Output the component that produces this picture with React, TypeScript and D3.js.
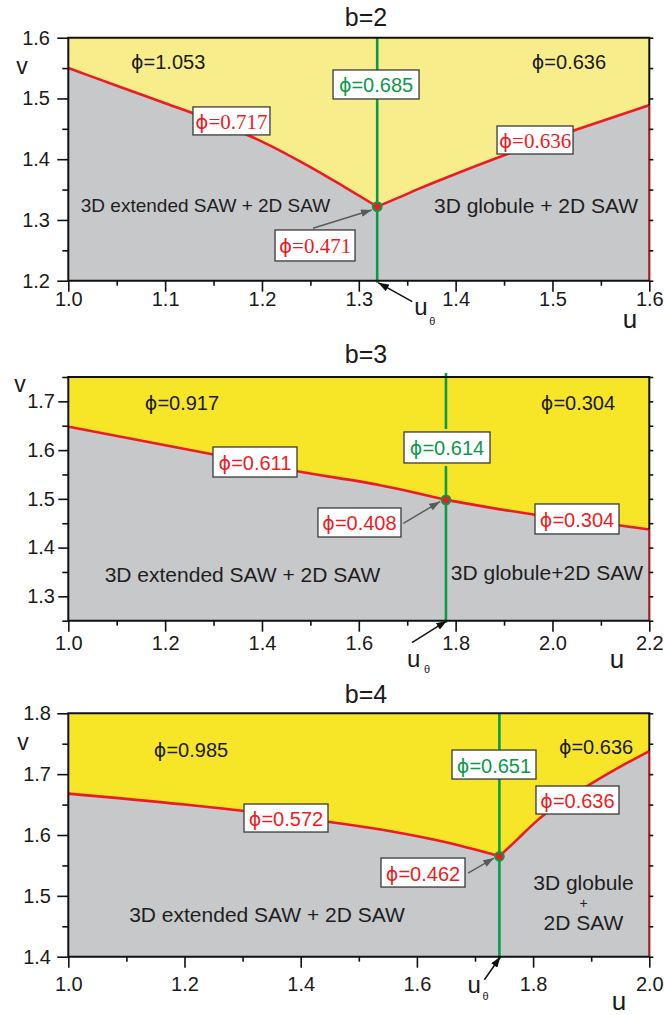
import React, { useEffect, useRef } from 'react';
import * as d3 from 'd3';

// ---- b=2 ----
const b2LeftU = [1.0, 1.05, 1.1, 1.15, 1.2, 1.25, 1.285, 1.319];
const b2LeftV = [1.55, 1.521, 1.492, 1.463, 1.429, 1.387, 1.3545, 1.322];
const b2RightU = [1.319, 1.343, 1.363, 1.394, 1.446, 1.529, 1.6];
const b2RightV = [1.322, 1.338, 1.352, 1.372, 1.404, 1.451, 1.489];
const b2Theta = 1.319;
const b2UTicks = [1.0, 1.1, 1.2, 1.3, 1.4, 1.5, 1.6];
const b2UMinor = [1.05, 1.15, 1.25, 1.35, 1.45, 1.55];
const b2VTicks = [1.2, 1.3, 1.4, 1.5, 1.6];
const b2VMinor = [1.25, 1.35, 1.45, 1.55];

// ---- b=3 ----
const b3LeftU = [1.0, 1.3, 1.47, 1.644, 1.78];
const b3LeftV = [1.648, 1.591, 1.557, 1.528, 1.498];
const b3RightU = [1.78, 1.865, 1.961, 2.136, 2.2];
const b3RightV = [1.498, 1.483, 1.468, 1.446, 1.437];
const b3Theta = 1.78;
const b3UTicks = [1.0, 1.2, 1.4, 1.6, 1.8, 2.0, 2.2];
const b3UMinor = [1.1, 1.3, 1.5, 1.7, 1.9, 2.1];
const b3VTicks = [1.3, 1.4, 1.5, 1.6, 1.7];
const b3VMinor = [1.25, 1.35, 1.45, 1.55, 1.65, 1.75];

// ---- b=4 ----
const b4LeftU = [1.0, 1.2, 1.4, 1.55, 1.65, 1.7, 1.742];
const b4LeftV = [1.668, 1.65, 1.628, 1.607, 1.588, 1.576, 1.565];
const b4RightU = [1.742, 1.772, 1.805, 1.903, 1.961, 2.0];
const b4RightV = [1.565, 1.592, 1.622, 1.686, 1.718, 1.738];
const b4Theta = 1.742;
const b4UTicks = [1.0, 1.2, 1.4, 1.6, 1.8, 2.0];
const b4UMinor = [1.1, 1.3, 1.5, 1.7, 1.9];
const b4VTicks = [1.4, 1.5, 1.6, 1.7, 1.8];
const b4VMinor = [1.45, 1.55, 1.65, 1.75];

const W = 664, H = 1015;
const X0 = 68.3, X1 = 649.3;
const FONT = "'Liberation Sans', Arial, Helvetica, sans-serif";
const SERIF = "'Liberation Serif', 'Times New Roman', serif";
const PHI_FONT = "'DejaVu Sans', sans-serif";
const GRAY = '#c7c8ca';
const RED = '#ec1c24';
const DARKRED = '#9e1f24';
const GREEN = '#0a9a48';

const panels = [
  {
    title: 'b=2', titleY: 26, top: 37.7, bottom: 280.7,
    uDomain: [1.0, 1.6], vDomain: [1.2, 1.6], yellow: '#f8ed8b',
    leftU: b2LeftU, leftV: b2LeftV, rightU: b2RightU, rightV: b2RightV, theta: b2Theta,
    uTicks: b2UTicks, uMinor: b2UMinor, vTicks: b2VTicks, vMinor: b2VMinor,
    xPad: 0.6, yPad: 7.3, yTick: 11,
    vLab: [22, 36], uLab: [630, 47],
    th: { tail: [35, 21], tip: 2, ux: 37, uy: 34, tx: 52, ty: 44 },
    greenTop: 0, gap: 0, serifBoxes: true,
    plain: [
      { val: '1.053', u: 1.1031, v: 1.56 },
      { val: '0.636', u: 1.517, v: 1.56 },
    ],
    boxes: [
      { val: '0.685', u: 1.3178, v: 1.523, w: 86, h: 29, green: true },
      { val: '0.717', u: 1.1685, v: 1.463, w: 77, h: 28 },
      { val: '0.636', u: 1.482, v: 1.4316, w: 76, h: 28 },
      { val: '0.471', u: 1.2548, v: 1.258, w: 80, h: 31 },
    ],
    regions: [
      { lines: ['3D extended SAW + 2D SAW'], u: 1.1417, v: 1.3246, size: 19 },
      { lines: ['3D globule + 2D SAW'], u: 1.483, v: 1.3246, size: 21 },
    ],
    arrow: { from: [1.2527, 1.2863], to: [1.3133, 1.3164] },
  },
  {
    title: 'b=3', titleY: 363, top: 377, bottom: 620.7,
    uDomain: [1.0, 2.2], vDomain: [1.25, 1.75], yellow: '#f6e627',
    leftU: b3LeftU, leftV: b3LeftV, rightU: b3RightU, rightV: b3RightV, theta: b3Theta,
    uTicks: b3UTicks, uMinor: b3UMinor, vTicks: b3VTicks, vMinor: b3VMinor,
    xPad: 3.8, yPad: 3.3, yTick: 10,
    vLab: [20, 15], uLab: [617, 47],
    th: { tail: [-34, 22], tip: 0, ux: -39, uy: 46, tx: -22, ty: 52 },
    greenTop: 4, gap: 3, serifBoxes: false,
    plain: [
      { val: '0.917', u: 1.2348, v: 1.6967 },
      { val: '0.304', u: 2.0527, v: 1.6967 },
    ],
    boxes: [
      { val: '0.614', u: 1.7822, v: 1.6054, w: 86, h: 31, green: true },
      { val: '0.611', u: 1.3856, v: 1.5756, w: 84, h: 30 },
      { val: '0.408', u: 1.6014, v: 1.4515, w: 83, h: 29 },
      { val: '0.304', u: 2.0507, v: 1.4587, w: 84, h: 30 },
    ],
    regions: [
      { lines: ['3D extended SAW + 2D SAW'], u: 1.3598, v: 1.3438, size: 21 },
      { lines: ['3D globule+2D SAW'], u: 1.9887, v: 1.3479, size: 21 },
    ],
    arrow: { from: [1.692, 1.4498], to: [1.7677, 1.4942] },
  },
  {
    title: 'b=4', titleY: 703, top: 713.3, bottom: 956.7,
    uDomain: [1.0, 2.0], vDomain: [1.4, 1.8], yellow: '#f6e627',
    leftU: b4LeftU, leftV: b4LeftV, rightU: b4RightU, rightV: b4RightV, theta: b4Theta,
    uTicks: b4UTicks, uMinor: b4UMinor, vTicks: b4VTicks, vMinor: b4VMinor,
    xPad: 8.8, yPad: 6.3, yTick: 11,
    vLab: [23, 37], uLab: [619, 53],
    th: { tail: [-15, 23], tip: 0, ux: -32, uy: 36, tx: -17, ty: 43 },
    greenTop: 0, gap: 0, serifBoxes: false,
    plain: [
      { val: '0.985', u: 1.2112, v: 1.7397 },
      { val: '0.636', u: 1.9083, v: 1.7446 },
    ],
    boxes: [
      { val: '0.651', u: 1.7327, v: 1.7158, w: 84, h: 29, green: true },
      { val: '0.572', u: 1.3747, v: 1.6279, w: 84, h: 28 },
      { val: '0.636', u: 1.8764, v: 1.6575, w: 83, h: 28 },
      { val: '0.462', u: 1.6105, v: 1.5383, w: 84, h: 29 },
    ],
    regions: [
      { lines: ['3D extended SAW + 2D SAW'], u: 1.342, v: 1.4686, size: 21 },
      { lines: ['3D globule', '+', '2D SAW'], u: 1.8867, v: 1.5227, size: 21, offs: [0, 21, 40], sizes: [21, 14, 21] },
    ],
    arrow: { from: [1.688, 1.5375], to: [1.7327, 1.5621] },
  },
];

function phiText(sel: any, x: number, y: number, val: string, size: number, font: string, color: string) {
  const t = sel.append('text')
    .attr('x', x).attr('y', y)
    .attr('text-anchor', 'middle')
    .attr('dominant-baseline', 'central')
    .attr('font-size', size)
    .attr('font-family', font)
    .attr('fill', color);
  t.append('tspan').attr('font-family', PHI_FONT).attr('font-size', size * 0.95).text('\u03D5');
  t.append('tspan').text('=' + val);
}

function drawPanel(svg: any, p: any) {
  const x = d3.scaleLinear().domain(p.uDomain).range([X0, X1]);
  const y = d3.scaleLinear().domain(p.vDomain).range([p.bottom, p.top]);
  const g = svg.append('g');

  const left = p.leftU.map((u: number, i: number) => [u, p.leftV[i]]);
  const right = p.rightU.map((u: number, i: number) => [u, p.rightV[i]]);

  g.append('rect')
    .attr('x', X0).attr('y', p.top)
    .attr('width', X1 - X0).attr('height', p.bottom - p.top)
    .attr('fill', p.yellow);

  const area = d3.area<any>()
    .x(d => x(d[0])).y0(p.bottom).y1(d => y(d[1]))
    .curve(d3.curveMonotoneX);
  [left, right].forEach(pts => {
    g.append('path').attr('d', area(pts)).attr('fill', GRAY).attr('stroke', GRAY).attr('stroke-width', 0.6);
  });

  // u_theta line
  const xt = x(p.theta);
  g.append('line')
    .attr('x1', xt).attr('x2', xt)
    .attr('y1', p.top - p.greenTop).attr('y2', p.bottom + 2)
    .attr('stroke', GREEN).attr('stroke-width', 2.6);

  const line = d3.line<any>().x(d => x(d[0])).y(d => y(d[1])).curve(d3.curveMonotoneX);
  [left, right].forEach(pts => {
    g.append('path').attr('d', line(pts)).attr('fill', 'none')
      .attr('stroke', RED).attr('stroke-width', 2.6).attr('stroke-linejoin', 'round');
  });

  const endV = p.rightV[p.rightV.length - 1];
  g.append('line')
    .attr('x1', X1).attr('x2', X1).attr('y1', y(endV)).attr('y2', p.bottom)
    .attr('stroke', DARKRED).attr('stroke-width', 2.2);

  // frame
  g.append('path')
    .attr('d', `M${X1},${y(endV)}V${p.top}H${X0}V${p.bottom}H${X1}`)
    .attr('fill', 'none').attr('stroke', '#111').attr('stroke-width', 2);

  const fmt = d3.format('.1f');
  const styleAxis = (s: any) => {
    s.select('.domain').remove();
    s.attr('font-family', FONT).attr('font-size', 20);
    s.selectAll('line').attr('stroke', '#111').attr('stroke-width', 1.6);
    s.selectAll('text').attr('fill', '#1a1a1a');
  };

  g.append('g').attr('transform', `translate(0,${p.bottom})`)
    .call(d3.axisBottom(x).tickValues(p.uTicks).tickSize(11).tickPadding(p.xPad).tickFormat((d: any) => fmt(d)))
    .call(styleAxis);
  g.append('g').attr('transform', `translate(0,${p.bottom})`)
    .call(d3.axisBottom(x).tickValues(p.uMinor).tickSize(5).tickFormat(() => ''))
    .call(styleAxis);
  g.append('g').attr('transform', `translate(${X0},0)`)
    .call(d3.axisLeft(y).tickValues(p.vTicks).tickSize(p.yTick).tickPadding(p.yPad).tickFormat((d: any) => fmt(d)))
    .call(styleAxis);
  g.append('g').attr('transform', `translate(${X0},0)`)
    .call(d3.axisLeft(y).tickValues(p.vMinor).tickSize(6).tickFormat(() => ''))
    .call(styleAxis);
  g.append('g').attr('transform', `translate(${X1},0)`)
    .call(d3.axisRight(y).tickValues([...p.vTicks, ...p.vMinor]).tickSize(4).tickFormat(() => ''))
    .call(styleAxis);

  // title and axis names
  g.append('text').attr('x', 366).attr('y', p.titleY).attr('text-anchor', 'middle')
    .attr('font-family', FONT).attr('font-size', 25).attr('fill', '#1a1a1a').text(p.title);
  g.append('text').attr('x', p.vLab[0]).attr('y', p.top + p.vLab[1]).attr('text-anchor', 'middle')
    .attr('font-family', FONT).attr('font-size', 23).attr('fill', '#1a1a1a').text('v');
  g.append('text').attr('x', p.uLab[0]).attr('y', p.bottom + p.uLab[1]).attr('text-anchor', 'middle')
    .attr('font-family', FONT).attr('font-size', 26).attr('fill', '#1a1a1a').text('u');

  // region texts
  p.regions.forEach((r: any) => {
    r.lines.forEach((s: string, i: number) => {
      g.append('text')
        .attr('x', x(r.u))
        .attr('y', y(r.v) + (r.offs ? r.offs[i] : 0))
        .attr('text-anchor', 'middle').attr('dominant-baseline', 'central')
        .attr('font-family', FONT).attr('font-size', r.sizes ? r.sizes[i] : r.size).attr('fill', '#1e1e1e')
        .text(s);
    });
  });

  // plain phi labels
  p.plain.forEach((l: any) => phiText(g, x(l.u), y(l.v), l.val, 20, FONT, '#1a1a1a'));

  // boxed labels
  p.boxes.forEach((b: any) => {
    const cx = x(b.u), cy = y(b.v);
    if (b.green && p.gap) {
      g.append('rect')
        .attr('x', cx - 3).attr('y', cy - b.h / 2 - p.gap)
        .attr('width', 6).attr('height', b.h + 2 * p.gap)
        .attr('fill', p.yellow);
    }
    g.append('rect')
      .attr('x', cx - b.w / 2).attr('y', cy - b.h / 2)
      .attr('width', b.w).attr('height', b.h)
      .attr('fill', '#fff').attr('stroke', '#3a3a3a').attr('stroke-width', 1.3);
    const serif = p.serifBoxes && !b.green;
    phiText(g, cx, cy + 1, b.val, serif ? 21 : 20, serif ? SERIF : FONT, b.green ? GREEN : RED);
  });

  // arrow to the critical point
  g.append('line')
    .attr('x1', x(p.arrow.from[0])).attr('y1', y(p.arrow.from[1]))
    .attr('x2', x(p.arrow.to[0])).attr('y2', y(p.arrow.to[1]))
    .attr('stroke', '#5a5a5a').attr('stroke-width', 1.4)
    .attr('marker-end', 'url(#ahGray)');

  // critical point
  g.append('circle')
    .attr('cx', x(p.theta)).attr('cy', y(p.leftV[p.leftV.length - 1])).attr('r', 4.4)
    .attr('fill', RED).attr('stroke', GREEN).attr('stroke-width', 2);

  // u_theta arrow and label
  g.append('line')
    .attr('x1', xt + p.th.tail[0]).attr('y1', p.bottom + p.th.tail[1])
    .attr('x2', xt + 1).attr('y2', p.bottom + p.th.tip)
    .attr('stroke', '#111').attr('stroke-width', 1.5)
    .attr('marker-end', 'url(#ahBlack)');
  g.append('text').attr('x', xt + p.th.ux).attr('y', p.bottom + p.th.uy)
    .attr('font-family', FONT).attr('font-size', 24).attr('fill', '#1a1a1a').text('u');
  g.append('text').attr('x', xt + p.th.tx).attr('y', p.bottom + p.th.ty)
    .attr('font-family', FONT).attr('font-size', 11).attr('fill', '#1a1a1a').text('\u03B8');
}

export default function App() {
  const ref = useRef<SVGSVGElement>(null);

  useEffect(() => {
    const svg = d3.select(ref.current);
    svg.selectAll('*').remove();
    svg.append('rect').attr('width', W).attr('height', H).attr('fill', '#fff');

    const defs = svg.append('defs');
    [['ahGray', '#5a5a5a'], ['ahBlack', '#111']].forEach(([id, c]) => {
      defs.append('marker')
        .attr('id', id).attr('viewBox', '0 0 10 7')
        .attr('refX', 10).attr('refY', 3.5)
        .attr('markerWidth', 11).attr('markerHeight', 7.5)
        .attr('markerUnits', 'userSpaceOnUse')
        .attr('orient', 'auto')
        .append('path').attr('d', 'M0,0L10,3.5L0,7Z').attr('fill', c);
    });

    panels.forEach(p => drawPanel(svg, p));
  }, []);

  return (
    <svg ref={ref} width={W} height={H}
      style={{ position: 'absolute', left: 0, top: 0, display: 'block' }} />
  );
}
